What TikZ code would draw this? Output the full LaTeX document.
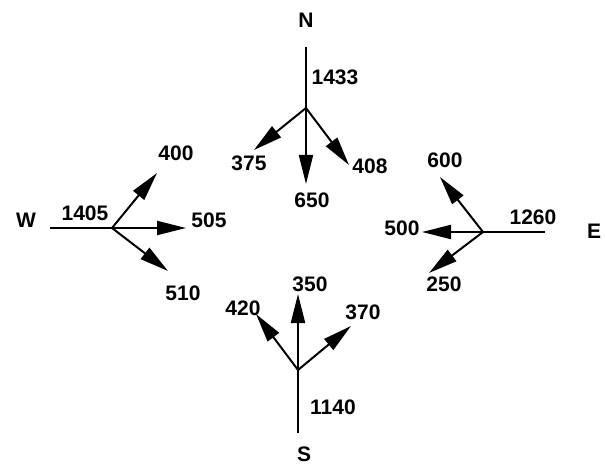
\documentclass[tikz,border=0pt]{standalone}
\usepackage{fontspec}
\setmainfont{Liberation Sans}
\usetikzlibrary{arrows.meta}
\begin{document}
\begin{tikzpicture}[x=1pt,y=-1pt,
  lbl/.style={inner sep=0pt,font=\fontsize{21}{22}\selectfont\bfseries},
  plain/.style={line width=1.3pt},
  flow/.style={line width=2pt,-{Triangle[length=29pt,width=14pt]}}]
\useasboundingbox (0,0) rectangle (605,468);
% North
\coordinate (nc) at (306,108);
\coordinate (ntop) at (306,47);
\coordinate (n650) at (306,184);
\coordinate (n375) at (254,150);
\coordinate (n408) at (349,165);
\node[lbl] (N) at (306,20) {N};
\node[lbl] (l1433) at (335,77) {1433};
\node[lbl] (l375) at (249,163) {375};
\node[lbl] (l650) at (312,200) {650};
\node[lbl] (l408) at (370,166) {408};
\draw[plain] (ntop) -- (nc);
\draw[flow] (nc) -- (n650);
\draw[flow] (nc) -- (n375);
\draw[flow] (nc) -- (n408);
% West
\coordinate (wc) at (112,228);
\coordinate (wleft) at (50,228);
\coordinate (w505) at (186,228);
\coordinate (w400) at (157,173);
\coordinate (w510) at (168,271);
\node[lbl] (W) at (26,220) {W};
\node[lbl] (l1405) at (85,213) {1405};
\node[lbl] (l400) at (176,153) {400};
\node[lbl] (l505) at (209,220) {505};
\node[lbl] (l510) at (183,293) {510};
\draw[plain] (wleft) -- (wc);
\draw[flow] (wc) -- (w505);
\draw[flow] (wc) -- (w400);
\draw[flow] (wc) -- (w510);
% East
\coordinate (ec) at (483,232);
\coordinate (eright) at (545,232);
\coordinate (e500) at (422,232);
\coordinate (e600) at (440,177);
\coordinate (e250) at (429,273);
\node[lbl] (E) at (594,231) {E};
\node[lbl] (l1260) at (533,217) {1260};
\node[lbl] (l600) at (445,160) {600};
\node[lbl] (l500) at (402,228) {500};
\node[lbl] (l250) at (444,284) {250};
\draw[plain] (eright) -- (ec);
\draw[flow] (ec) -- (e500);
\draw[flow] (ec) -- (e600);
\draw[flow] (ec) -- (e250);
% South
\coordinate (sc) at (298,370);
\coordinate (sbot) at (298,433);
\coordinate (s350) at (298,294);
\coordinate (s420) at (256,314);
\coordinate (s370) at (351,326);
\node[lbl] (S) at (304,454) {S};
\node[lbl] (l1140) at (333,407) {1140};
\node[lbl] (l350) at (310,284) {350};
\node[lbl] (l420) at (243,308) {420};
\node[lbl] (l370) at (363,312) {370};
\draw[plain] (sbot) -- (sc);
\draw[flow] (sc) -- (s350);
\draw[flow] (sc) -- (s420);
\draw[flow] (sc) -- (s370);
\end{tikzpicture}
\end{document}
